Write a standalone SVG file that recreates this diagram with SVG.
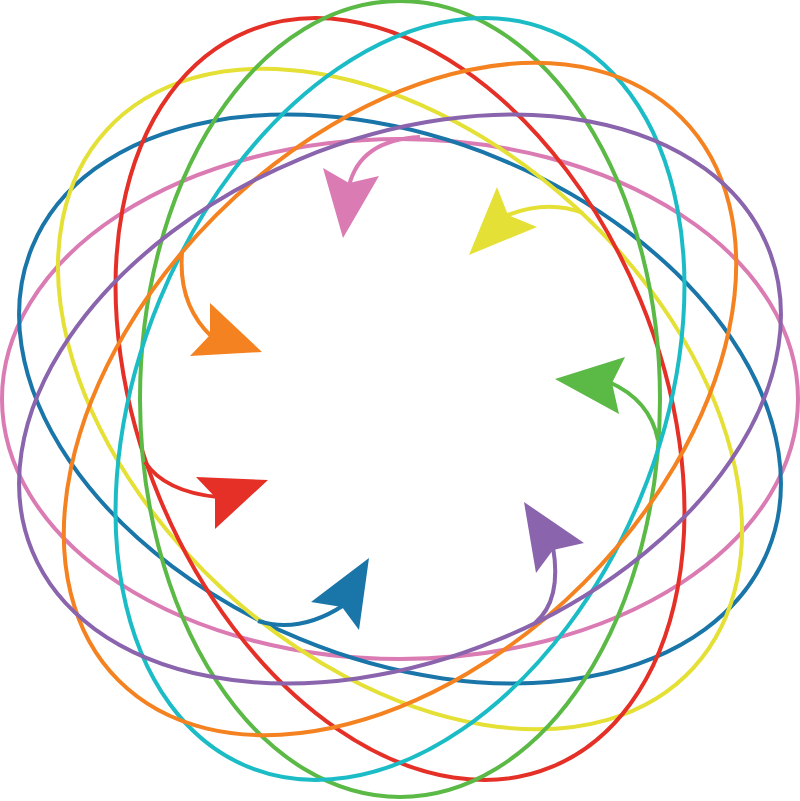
<svg xmlns="http://www.w3.org/2000/svg" width="800" height="801" viewBox="0 0 800 801">
<style>
.ring{fill:none;stroke-width:4}
.tail{fill:none;stroke-width:4}
.pink{stroke:#DB7BB3}.pinkf{fill:#DB7BB3}
.blue{stroke:#1A76A8}.bluef{fill:#1A76A8}
.yellow{stroke:#E5E035}.yellowf{fill:#E5E035}
.red{stroke:#E53027}.redf{fill:#E53027}
.green{stroke:#5BB946}.greenf{fill:#5BB946}
.cyan{stroke:#1BBCC6}
.orange{stroke:#F58220}.orangef{fill:#F58220}
.purple{stroke:#8A64AC}.purplef{fill:#8A64AC}
</style>
<rect width="800" height="801" fill="#ffffff"/>
<g id="rings">
<g id="ring-pink"><ellipse class="ring pink" cx="400" cy="399" rx="398" ry="260"/></g>
<g id="ring-blue"><ellipse class="ring blue" cx="400" cy="399" rx="398" ry="260" transform="rotate(22.5 400 399)"/></g>
<g id="ring-yellow"><ellipse class="ring yellow" cx="400" cy="399" rx="398" ry="260" transform="rotate(42.5 400 399)"/></g>
<g id="ring-red"><ellipse class="ring red" cx="400" cy="399" rx="398" ry="260" transform="rotate(67.5 400 399)"/></g>
<g id="ring-green"><ellipse class="ring green" cx="400" cy="399" rx="398" ry="260" transform="rotate(90 400 399)"/></g>
<g id="ring-cyan"><ellipse class="ring cyan" cx="400" cy="399" rx="398" ry="260" transform="rotate(112.5 400 399)"/></g>
<g id="ring-orange"><ellipse class="ring orange" cx="400" cy="399" rx="398" ry="260" transform="rotate(135 400 399)"/></g>
<g id="ring-purple"><ellipse class="ring purple" cx="400" cy="399" rx="398" ry="260" transform="rotate(157.5 400 399)"/></g>
</g>
<g id="connectors">
<g id="arrow-pink"><path class="tail pink" d="M420,137 Q360,140 349,186"/><polygon class="pinkf" points="343,238 323,168 349,183 379,176"/></g>
<g id="arrow-yellow"><path class="tail yellow" d="M583,213 Q547,199 505,216"/><polygon class="yellowf" points="469,255 497,187 508,215 537,227"/></g>
<g id="arrow-green"><path class="tail green" d="M658,440 Q650,400 609,382"/><polygon class="greenf" points="555,379 625,357 612,383 619,414"/></g>
<g id="arrow-purple"><path class="tail purple" d="M535,623 Q562,600 553,547"/><polygon class="purplef" points="524,502 584,543 553,550 536,573"/></g>
<g id="arrow-blue"><path class="tail blue" d="M258,621 Q300,634 344,605"/><polygon class="bluef" points="369,558 311,602 342,607 359,630"/></g>
<g id="arrow-red"><path class="tail red" d="M145,462 Q165,492 218,497"/><polygon class="redf" points="268,480 196,477 215,497 215,529"/></g>
<g id="arrow-orange"><path class="tail orange" d="M182,253 Q178,305 212,337"/><polygon class="orangef" points="262,352 210,303 210,335 190,356"/></g>
</g>
</svg>
